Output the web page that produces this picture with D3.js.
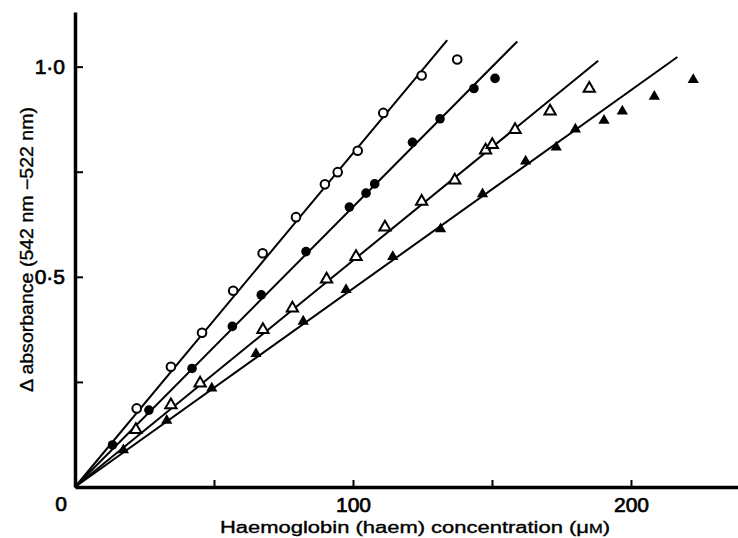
<!DOCTYPE html>
<html>
<head>
<meta charset="utf-8">
<script src="https://cdn.jsdelivr.net/npm/d3@7"></script>
<style>
  body { margin: 0; background: #fff; }
  text { font-family: "Liberation Sans", Arial, sans-serif; fill: #000; }
</style>
</head>
<body>
<svg id="chart" width="738" height="538"></svg>
<script>
// open circles
const openCircles = [
  [22.2, 0.187], [34.5, 0.286], [45.7, 0.367], [56.9, 0.467], [67.5, 0.556],
  [79.5, 0.642], [89.9, 0.720], [94.5, 0.749], [101.7, 0.800], [110.9, 0.890],
  [124.7, 0.979], [137.5, 1.017]
];
// filled circles
const filledCircles = [
  [13.5, 0.100], [26.6, 0.183], [42.1, 0.282], [56.6, 0.382], [67.0, 0.457],
  [83.1, 0.560], [98.7, 0.666], [104.7, 0.699], [107.8, 0.721], [121.4, 0.820],
  [131.3, 0.876], [143.5, 0.948], [151.1, 0.972]
];
// open triangles
const openTriangles = [
  [21.9, 0.136], [34.5, 0.195], [45.0, 0.247], [67.6, 0.374], [78.2, 0.425],
  [90.5, 0.494], [101.1, 0.548], [111.5, 0.618], [124.7, 0.679], [136.6, 0.730],
  [147.7, 0.801], [150.1, 0.814], [158.3, 0.850], [170.9, 0.894], [185.0, 0.948]
];
// filled triangles
const filledTriangles = [
  [17.4, 0.088], [33.0, 0.158], [49.2, 0.235], [65.1, 0.317], [82.1, 0.394],
  [97.5, 0.469], [114.3, 0.548], [131.5, 0.614], [146.6, 0.697], [162.1, 0.775],
  [173.1, 0.808], [180.0, 0.851], [190.3, 0.872], [196.9, 0.894], [208.4, 0.929],
  [222.4, 0.969]
];
// fitted lines through the origin, [start, end]
const fitLines = [
  [[0, 0], [133.9, 1.063]],
  [[0, 0], [159.1, 1.060]],
  [[0, 0], [188.2, 1.014]],
  [[0, 0], [216.7, 1.023]]
];
const xTicks = [50, 100, 150, 200];
const xLabels = { 100: '100', 200: '200' };
const yTicks = [0.25, 0.5, 0.75, 1.0];
const yLabels = { 0.5: '0\u00b75', 1: '1\u00b70' };

const svg = d3.select('#chart');
const x = d3.scaleLinear().domain([0, 238.5]).range([75, 738]);
const y = d3.scaleLinear().domain([0, 1.13]).range([487, 12]);

// fitted lines
const line = d3.line().x(d => x(d[0])).y(d => y(d[1]));
svg.append('g').selectAll('path')
  .data(fitLines)
  .join('path')
  .attr('d', line)
  .attr('fill', 'none')
  .attr('stroke', '#000')
  .attr('stroke-width', 2);

// markers
const tri = d3.symbol().type(d3.symbolTriangle).size(55);

svg.append('g').selectAll('circle')
  .data(openCircles)
  .join('circle')
  .attr('cx', d => x(d[0]))
  .attr('cy', d => y(d[1]))
  .attr('r', 4.3)
  .attr('fill', '#fff')
  .attr('stroke', '#000')
  .attr('stroke-width', 2);

svg.append('g').selectAll('circle')
  .data(filledCircles)
  .join('circle')
  .attr('cx', d => x(d[0]))
  .attr('cy', d => y(d[1]))
  .attr('r', 4.8)
  .attr('fill', '#000');

svg.append('g').selectAll('path')
  .data(openTriangles)
  .join('path')
  .attr('d', tri)
  .attr('transform', d => 'translate(' + x(d[0]) + ',' + y(d[1]) + ')')
  .attr('fill', '#fff')
  .attr('stroke', '#000')
  .attr('stroke-width', 2);

svg.append('g').selectAll('path')
  .data(filledTriangles)
  .join('path')
  .attr('d', tri)
  .attr('transform', d => 'translate(' + x(d[0]) + ',' + y(d[1]) + ')')
  .attr('fill', '#000');

// axes
const xAxis = svg.append('g')
  .attr('transform', 'translate(0,' + y(0) + ')')
  .call(d3.axisBottom(x)
    .tickValues(xTicks)
    .tickSizeInner(-7)
    .tickSizeOuter(0)
    .tickPadding(10)
    .tickFormat(d => xLabels[d] || ''));

const yAxis = svg.append('g')
  .attr('transform', 'translate(' + x(0) + ',0)')
  .call(d3.axisLeft(y)
    .tickValues(yTicks)
    .tickSizeInner(-8)
    .tickSizeOuter(0)
    .tickPadding(10)
    .tickFormat(d => yLabels[d] || ''));

[xAxis, yAxis].forEach(a => {
  a.select('.domain').attr('stroke', '#000').attr('stroke-width', 3.5);
  a.selectAll('.tick line').attr('stroke', '#000').attr('stroke-width', 2);
  a.selectAll('.tick text')
    .attr('font-size', 21)
    .attr('font-family', '"Liberation Sans", Arial, sans-serif')
    .attr('fill', '#000')
    .attr('stroke', '#000')
    .attr('stroke-width', 0.7);
});

svg.append('text')
  .attr('x', 61)
  .attr('y', 511)
  .attr('text-anchor', 'middle')
  .attr('font-size', 21)
  .attr('stroke', '#000')
  .attr('stroke-width', 0.7)
  .text('0');

// axis titles
const xt = svg.append('text')
  .attr('x', 220)
  .attr('y', 533)
  .attr('font-size', 16)
  .attr('stroke', '#000')
  .attr('stroke-width', 0.35)
  .attr('textLength', 390)
  .attr('lengthAdjust', 'spacingAndGlyphs');
xt.append('tspan').text('Haemoglobin (haem) concentration (\u03bc');
xt.append('tspan').attr('font-size', 12).text('M');
xt.append('tspan').text(')');

svg.append('text')
  .attr('transform', 'translate(33,392) rotate(-90)')
  .attr('font-size', 18)
  .attr('stroke', '#000')
  .attr('stroke-width', 0.35)
  .attr('textLength', 285)
  .attr('lengthAdjust', 'spacingAndGlyphs')
  .text('\u0394 absorbance (542 nm \u2212522 nm)');
</script>
</body>
</html>
